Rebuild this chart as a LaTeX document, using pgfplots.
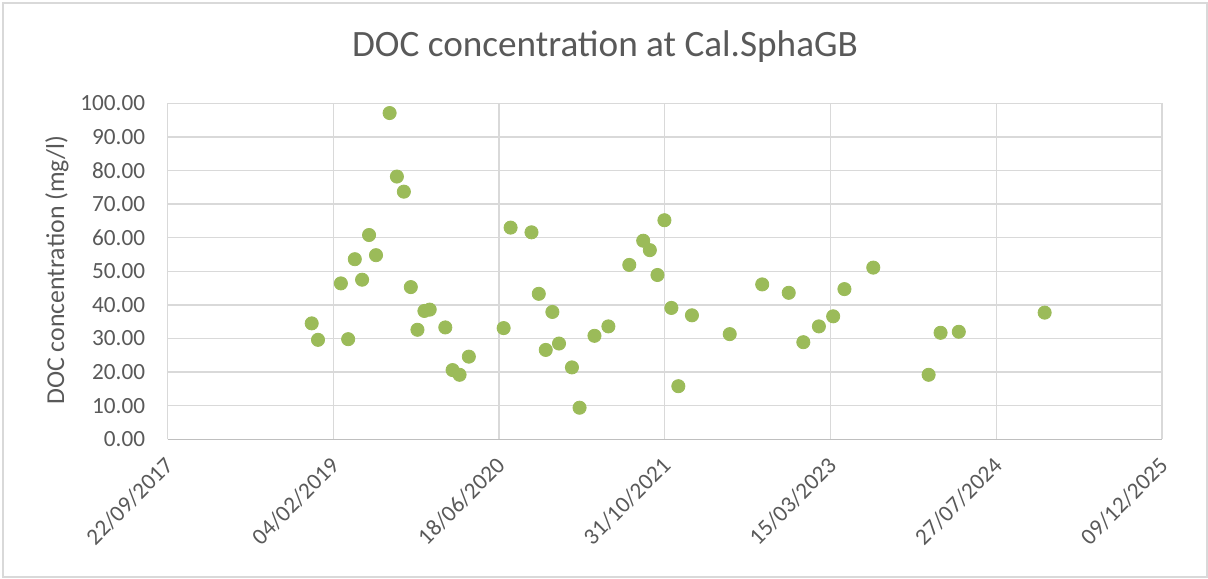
\documentclass[border=0pt]{standalone}
\usepackage{pgfplots}
\pgfplotsset{compat=1.18}
\usepackage{fontspec}
\setmainfont{Carlito}
\definecolor{mk}{HTML}{9BBB59}
\definecolor{gridc}{HTML}{D9D9D9}
\definecolor{txt}{HTML}{595959}
\definecolor{axc}{HTML}{BFBFBF}
\begin{document}
\begin{tikzpicture}
\useasboundingbox (0,0) rectangle (604pt,289pt);
\draw[gridc, line width=0.6pt] (1.5pt,0.5pt) rectangle (603.5pt,287.5pt);
\begin{axis}[
  at={(83.75pt,69.35pt)}, anchor=south west,
  scale only axis, width=497.25pt, height=168pt,
  xmin=43000, xmax=46000, ymin=0, ymax=100,
  scaled x ticks=false, scaled y ticks=false,
  xtick={43000,43500,44000,44500,45000,45500,46000},
  xticklabels={22/09/2017,04/02/2019,18/06/2020,31/10/2021,15/03/2023,27/07/2024,09/12/2025},
  ytick={0,10,...,100},
  yticklabel={\pgfmathprintnumber[fixed,fixed zerofill,precision=2,assume math mode=true]{\tick}},
  /pgf/number format/assume math mode=true,
  major tick length=0pt,
  grid=major,
  major grid style={gridc, line width=0.7pt},
  axis line style={draw=none},
  tick label style={font=\fontsize{11.6pt}{13pt}\selectfont, text=txt},
  yticklabel style={anchor=east, inner sep=0pt, xshift=-11pt},
  xticklabel style={xshift=1pt, yshift=-11pt, rotate=45, anchor=east, inner sep=0pt},
  clip=false,
]
\draw[axc, line width=0.8pt] (axis cs:43000,0) -- (axis cs:46000,0);
\addplot[only marks, mark=*, mark size=3.3pt, mark options={fill=mk, draw=mk}] coordinates {
(43435,34.5) (43454,29.6) (43523,46.4) (43545,29.8) (43565,53.6) (43587,47.5)
(43608,60.8) (43629,54.8) (43670,97.1) (43692,78.2) (43713,73.7) (43734,45.3)
(43754,32.6) (43775,38.2) (43791,38.6) (43838,33.3) (43860,20.6) (43881,19.2)
(43909,24.6) (44014,33.1) (44035,63.0) (44098,61.6) (44120,43.3) (44141,26.6)
(44161,37.9) (44181,28.5) (44220,21.4) (44243,9.4) (44288,30.8) (44330,33.6)
(44393,51.9) (44435,59.1) (44455,56.3) (44478,48.9) (44499,65.2) (44520,39.1)
(44541,15.8) (44582,36.9) (44696,31.3) (44794,46.1) (44874,43.6) (44918,28.9)
(44965,33.6) (45008,36.6) (45042,44.7) (45129,51.1) (45296,19.2) (45332,31.7)
(45387,32.0) (45646,37.7)
};
\end{axis}
\node[text=txt, font=\fontsize{18.6pt}{21pt}\selectfont] at (302.5pt,265.5pt) {DOC concentration at Cal.SphaGB};
\node[text=txt, font=\fontsize{12.9pt}{15pt}\selectfont, rotate=90] at (28.5pt,154pt) {DOC concentration (mg/l)};
\end{tikzpicture}
\end{document}
